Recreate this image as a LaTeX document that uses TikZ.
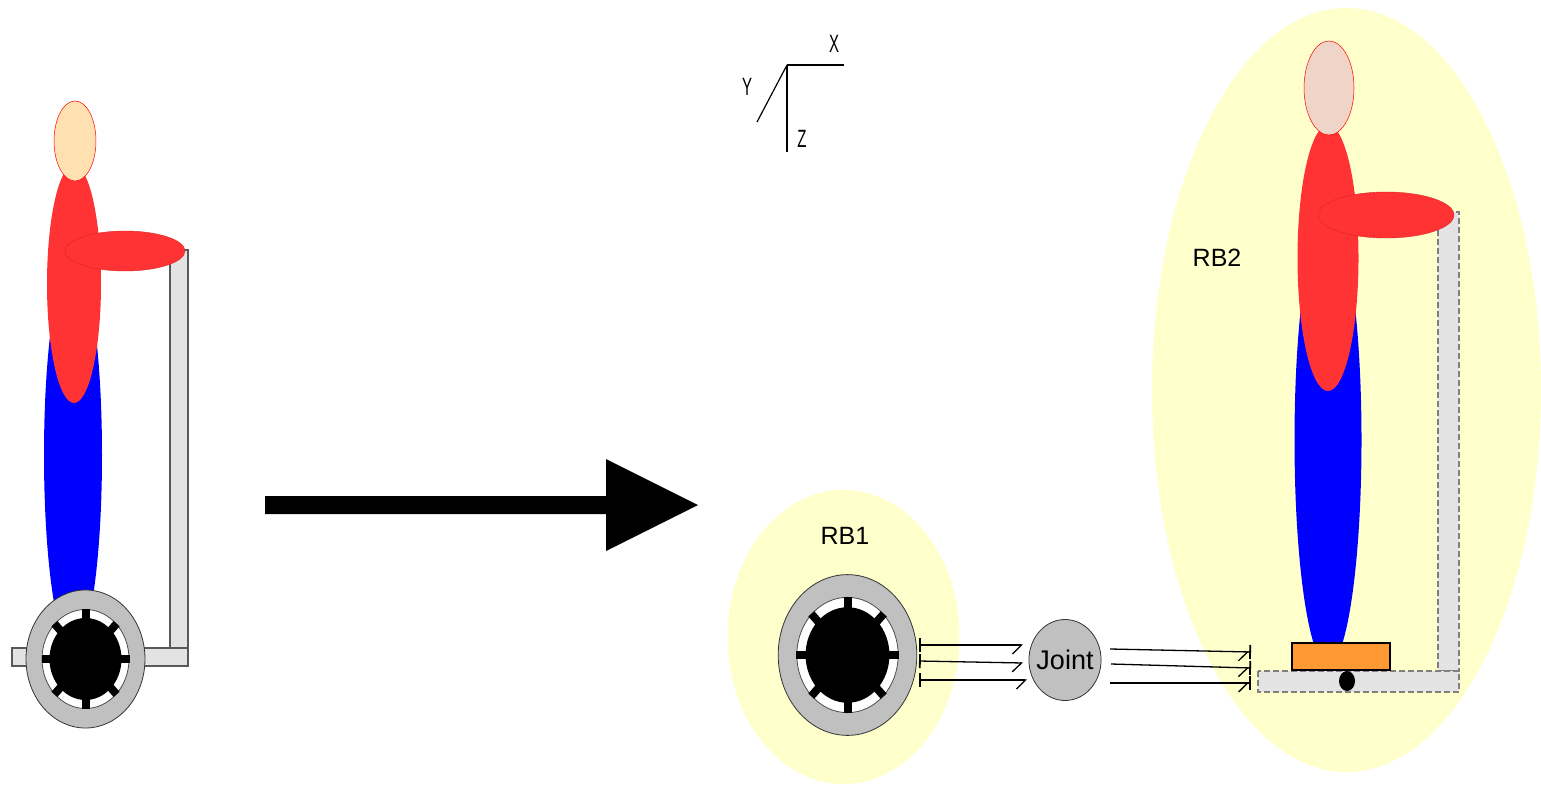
\documentclass[tikz,border=0pt]{standalone}
\usepackage{fontspec}
\setmainfont{Liberation Sans}
\usetikzlibrary{arrows.meta,shapes.geometric}

\definecolor{rbyellow}{HTML}{FFFFCC}
\definecolor{bodyred}{HTML}{FF3333}
\definecolor{bodyblue}{HTML}{0000FF}
\definecolor{barfill}{HTML}{E3E3E3}
\definecolor{rimgray}{HTML}{C0C0C0}
\definecolor{footorange}{HTML}{FF9933}
\definecolor{headleft}{HTML}{FFE0B0}
\definecolor{headright}{HTML}{EED5C8}

\tikzset{
  every node/.style={outer sep=0pt, inner sep=0pt, font=\fontsize{25}{25}\selectfont},
  axislabel/.style={xscale=.6},
  frame/.style={draw=black!65, fill=barfill, line width=1.2pt},
  dashframe/.style={draw=black!50, fill=barfill, line width=1.2pt, dash pattern=on 6pt off 3pt},
  wirein/.style={line width=1.3pt, {Bar[width=14pt,line width=1.8pt]}-{Straight Barb[right,length=9pt,width=18pt]}},
  wireout/.style={line width=1.3pt, -{Straight Barb[right,length=9pt,width=18pt,sep=0pt]Bar[width=14pt,line width=1.8pt]}}
}

% wheel with rim, white gap and eight spokes
\newcommand{\drawwheel}[3]{
  \begin{scope}[shift={(#1,#2)},scale=#3]
    \fill[rimgray,draw=black!80,line width=.8pt] (0,0) ellipse (59.5 and 69);
    \fill[white,draw=black!70,line width=.8pt] (0,0) ellipse (43.5 and 49.5);
    \fill[black] (0,0) ellipse (36 and 41);
    \foreach \ang in {0,45,...,315} {
      \draw[line width=8pt] (0,0) -- ({44*cos(\ang)},{50*sin(\ang)});
    }
  \end{scope}
}

\begin{document}
\begin{tikzpicture}[x=1pt,y=-1pt]
  \useasboundingbox (0,0) rectangle (1541,784);

  % left figure
  \draw[frame] (170,250) rectangle (188,648);
  \draw[frame] (12,648) rectangle (188,666);
  \fill[bodyblue] (73,455) ellipse (29 and 195);
  \fill[bodyred] (74,284) ellipse (27 and 119);
  \filldraw[fill=bodyred,draw=red!70!gray,line width=.4pt] (125,251) ellipse (60 and 20);
  \filldraw[fill=headleft,draw=red,line width=.5pt] (75,141) ellipse (21 and 40);
  \drawwheel{85.5}{659}{1}

  % big arrow
  \fill[black] (265,496) -- (606,496) -- (606,459) -- (698,505) -- (606,551) -- (606,514) -- (265,514) -- cycle;

  % axes
  \coordinate (origin) at (787,65);
  \coordinate (xend) at (844,65);
  \coordinate (yend) at (757,122);
  \coordinate (zend) at (787,152);
  \draw[line width=1.2pt] (origin) -- (xend);
  \draw[line width=1.2pt] (origin) -- (yend);
  \draw[line width=1.2pt] (origin) -- (zend);
  \node[axislabel] (xlabel) at (834,44) {X};
  \node[axislabel] (ylabel) at (747,87) {Y};
  \node[axislabel] (zlabel) at (802,139) {Z};

  % rigid body regions
  \fill[rbyellow] (843.5,637) ellipse (116 and 147);
  \fill[rbyellow] (1346.5,390) ellipse (194.5 and 382);
  \node (rbone) at (845,536) {RB1};
  \node (rbtwo) at (1217,258) {RB2};

  % right figure
  \draw[dashframe] (1438,212) rectangle (1459,671);
  \draw[dashframe] (1258,671) rectangle (1459,692);
  \fill[black] (1347,681) ellipse (8 and 10);
  \fill[bodyblue] (1328,440) ellipse (33.5 and 225);
  \fill[bodyred] (1328,258) ellipse (30.5 and 133);
  \filldraw[fill=bodyred,draw=red!70!gray,line width=.4pt] (1386,215) ellipse (68 and 23);
  \filldraw[fill=headright,draw=red,line width=.5pt] (1329,88) ellipse (25 and 47);
  \draw[fill=footorange,draw=black,line width=1.2pt] (1292,643) rectangle (1390,670);
  \drawwheel{847.5}{655}{1.165}

  % joint and its force lines
  \node[ellipse,draw=black!80,fill=rimgray,line width=.8pt,inner xsep=-3pt,minimum width=72pt,minimum height=81pt,font=\fontsize{27}{27}\selectfont] (joint) at (1065,660) {Joint};
  \coordinate (ina) at (919,645);
  \coordinate (inb) at (919,661);
  \coordinate (inc) at (919,680);
  \coordinate (ena) at (1023,645);
  \coordinate (enb) at (1023,663);
  \coordinate (enc) at (1027,680);
  \coordinate (outa) at (1110,649);
  \coordinate (outb) at (1111,664);
  \coordinate (outc) at (1110,683);
  \coordinate (basea) at (1251,652);
  \coordinate (baseb) at (1251,668);
  \coordinate (basec) at (1251,683);
  \draw[wirein] (ina) -- (ena);
  \draw[wirein] (inb) -- (enb);
  \draw[wirein] (inc) -- (enc);
  \draw[wireout] (outa) -- (basea);
  \draw[wireout] (outb) -- (baseb);
  \draw[wireout] (outc) -- (basec);
\end{tikzpicture}
\end{document}
